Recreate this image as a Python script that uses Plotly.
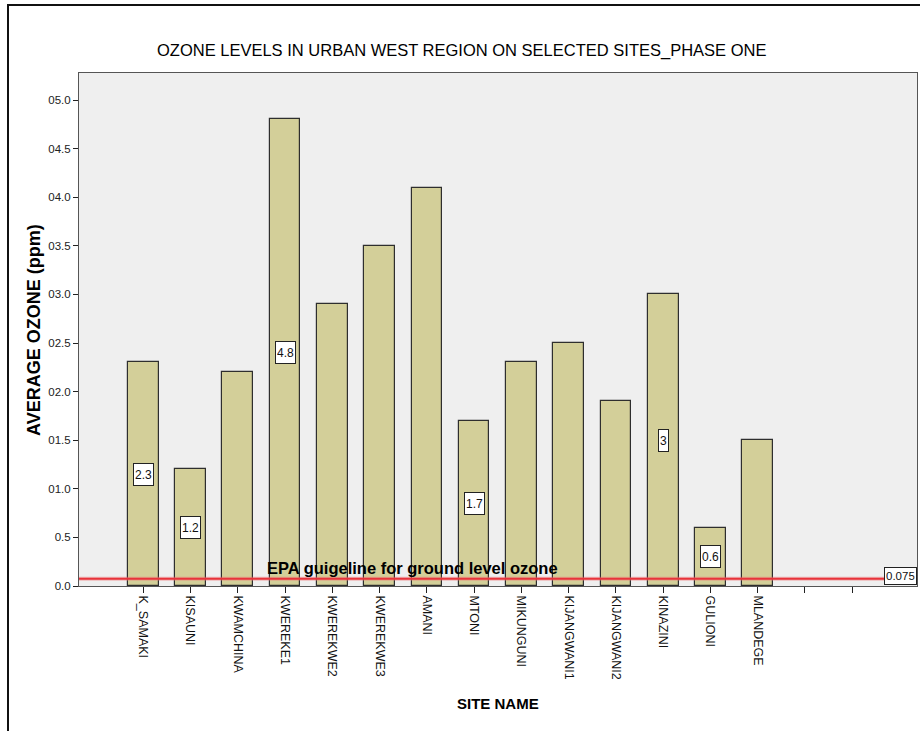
import plotly.graph_objects as go

# Site names and average ozone (ppm) for phase one
sites = ["K_SAMAKI", "KISAUNI", "KWAMCHINA", "KWEREKE1", "KWEREKWE2", "KWEREKWE3",
         "AMANI", "MTONI", "MIKUNGUNI", "KIJANGWANI1", "KIJANGWANI2", "KINAZINI",
         "GULIONI", "MLANDEGE"]
ozone = [2.3, 1.2, 2.2, 4.8, 2.9, 3.5, 4.1, 1.7, 2.3, 2.5, 1.9, 3.0, 0.6, 1.5]

# Bars that carry a boxed value label
labelled = ["K_SAMAKI", "KISAUNI", "KWEREKE1", "MTONI", "KINAZINI", "GULIONI"]

# Two trailing empty category slots on the axis
extra_slots = ["", ""]

# EPA guideline for ground level ozone
epa_limit = 0.075

y_ticks = [0.0, 0.5, 1.0, 1.5, 2.0, 2.5, 3.0, 3.5, 4.0, 4.5, 5.0]
y_ticktext = ["0.0", "0.5", "01.0", "01.5", "02.0", "02.5", "03.0", "03.5",
              "04.0", "04.5", "05.0"]

W, H = 920, 731
ML, MR, MT, MB = 79, 3, 73, 145
PW, PH = W - ML - MR, H - MT - MB


def px_x(px):
    return (px - ML) / PW


def px_y(py):
    return (H - MB - py) / PH


FONT = "Liberation Sans, Arial, sans-serif"

xs = list(range(len(sites)))
all_ticks = sites + extra_slots

fig = go.Figure()
fig.add_trace(go.Bar(
    x=xs, y=ozone, width=0.65,
    marker=dict(color="#D3CF99", line=dict(color="#2e2e2e", width=1.2)),
    hoverinfo="skip",
))

annotations = []
for i, (s, v) in enumerate(zip(sites, ozone)):
    if s in labelled:
        annotations.append(dict(
            x=i, y=v / 2, xref="x", yref="y", text=f"{v:g}", showarrow=False,
            font=dict(family=FONT, size=12, color="#111"),
            bgcolor="white", bordercolor="#222", borderwidth=1, borderpad=1,
            height=19,
        ))

# Guideline value tag at the right end of the line
annotations.append(dict(
    x=1, y=epa_limit, xref="paper", yref="y", text=f"{epa_limit:g}",
    showarrow=False, xanchor="right", yanchor="middle", yshift=3,
    font=dict(family=FONT, size=11.5, color="#111"),
    bgcolor="white", bordercolor="#222", borderwidth=1, borderpad=1, height=14,
))
annotations.append(dict(
    x=px_x(265), y=epa_limit, xref="paper", yref="y",
    text="<b>EPA guigeline for ground level ozone</b>", showarrow=False,
    xanchor="left", yanchor="bottom", yshift=0,
    font=dict(family=FONT, size=16.5, color="#000"),
))
# Titles
annotations.append(dict(
    x=px_x(461), y=px_y(50), xref="paper", yref="paper",
    text="OZONE LEVELS IN URBAN WEST REGION ON SELECTED SITES_PHASE ONE",
    showarrow=False, xanchor="center", yanchor="middle",
    font=dict(family=FONT, size=16.5, color="#000"),
))
annotations.append(dict(
    x=px_x(34), y=px_y(330), xref="paper", yref="paper",
    text="<b>AVERAGE OZONE (ppm)</b>", textangle=-90, showarrow=False,
    xanchor="center", yanchor="middle",
    font=dict(family=FONT, size=18, color="#000"),
))
annotations.append(dict(
    x=0.5, y=px_y(703), xref="paper", yref="paper",
    text="<b>SITE NAME</b>", showarrow=False, xanchor="center", yanchor="middle",
    font=dict(family=FONT, size=15, color="#000"),
))

shapes = [
    # guideline
    dict(type="line", xref="paper", yref="y", x0=0, x1=1, y0=epa_limit, y1=epa_limit,
         line=dict(color="rgba(240,120,120,0.45)", width=4), layer="above"),
    dict(type="line", xref="paper", yref="y", x0=0, x1=1, y0=epa_limit, y1=epa_limit,
         line=dict(color="#E8333B", width=2), layer="above"),
    # outer frame
    dict(type="line", xref="paper", yref="paper", x0=px_x(7), x1=px_x(920),
         y0=px_y(5), y1=px_y(5), line=dict(color="#111", width=2)),
    dict(type="line", xref="paper", yref="paper", x0=px_x(8), x1=px_x(8),
         y0=px_y(5), y1=px_y(731), line=dict(color="#111", width=2)),
]

fig.update_layout(
    width=W, height=H,
    margin=dict(l=ML, r=MR, t=MT, b=MB),
    paper_bgcolor="white", plot_bgcolor="#EFEFEF",
    showlegend=False, bargap=0,
    annotations=annotations, shapes=shapes,
    font=dict(family=FONT, color="#222"),
)
fig.update_xaxes(
    range=[-1.36, 16.37], tickmode="array",
    tickvals=list(range(len(all_ticks))), ticktext=all_ticks,
    tickangle=90, ticks="outside", ticklen=6, tickcolor="#222",
    tickfont=dict(family=FONT, size=12.5, color="#111"),
    showline=True, linecolor="#555", linewidth=1, mirror=True,
    showgrid=False, zeroline=False, fixedrange=True,
)
fig.update_yaxes(
    range=[0, 5.278], tickmode="array", tickvals=y_ticks, ticktext=y_ticktext,
    ticks="outside", ticklen=5, tickcolor="#222",
    tickfont=dict(family=FONT, size=11.5, color="#222"),
    showline=True, linecolor="#555", linewidth=1, mirror=True,
    showgrid=False, zeroline=False, fixedrange=True,
)

fig.write_html("out.html")
